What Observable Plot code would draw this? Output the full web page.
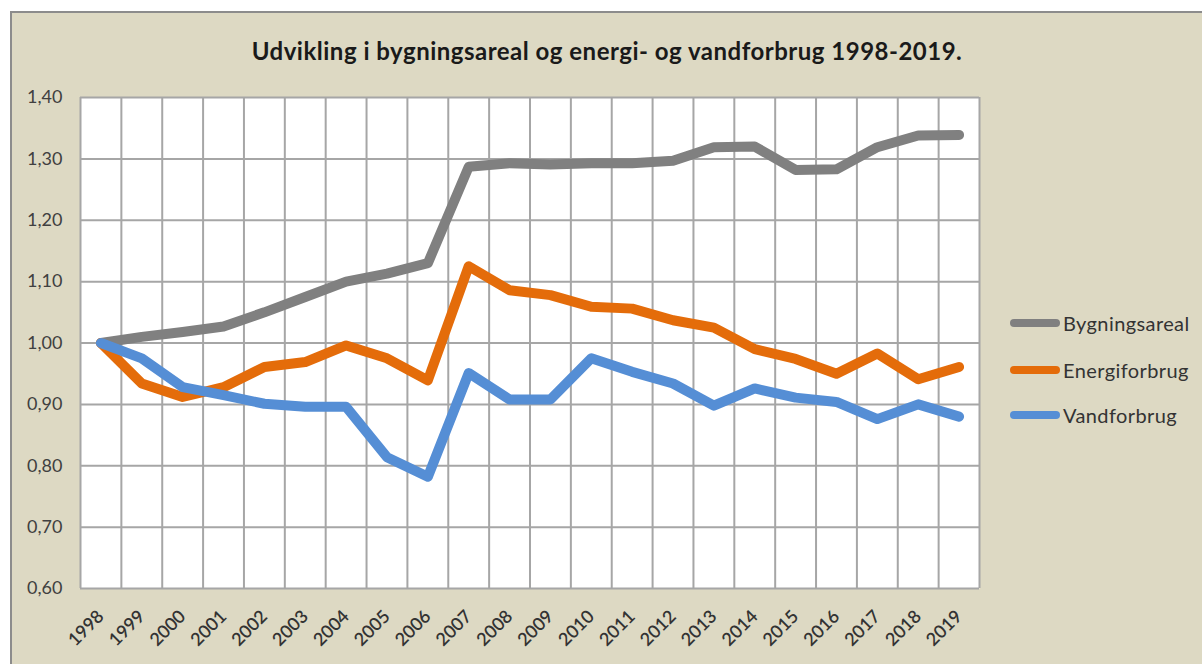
<!DOCTYPE html>
<html>
<head>
<meta charset="utf-8">
<script src="https://cdn.jsdelivr.net/npm/d3@7"></script>
<script src="https://cdn.jsdelivr.net/npm/@observablehq/plot@0.6"></script>
<style>
  html, body { margin: 0; padding: 0; background: #ffffff; }
  #wrap { position: relative; width: 1202px; height: 664px; overflow: hidden; background: #ffffff; font-family: Lato, "Open Sans", sans-serif; }
  #panel { position: absolute; left: 10px; top: 11px; width: 1200px; height: 660px; background: #ddd9c3; border-left: 2px solid #8c8c8c; border-top: 2px solid #8c8c8c; box-sizing: border-box; }
  #chart { position: absolute; left: 0; top: 0; }
  #title { position: absolute; left: 0; width: 1214px; top: 36px; text-align: center; font-weight: 700; font-size: 24px; letter-spacing: 0.5px; color: #1a1a1a; }
  #legend { position: absolute; left: 1010px; top: 310px; }
  .item { position: absolute; left: 0; height: 26px; white-space: nowrap; font-size: 20px; color: #333333; letter-spacing: 0.4px; }
  .swatch { position: absolute; left: 0; top: 9px; width: 50px; height: 8px; border-radius: 4px; }
  .lab { position: absolute; left: 53px; top: 0; line-height: 26px; }
</style>
</head>
<body>
<div id="wrap">
  <div id="panel"></div>
  <div id="chart"></div>
  <div id="title">Udvikling i bygningsareal og energi- og vandforbrug 1998-2019.</div>
  <div id="legend"></div>
</div>
<script>
const years = [1998, 1999, 2000, 2001, 2002, 2003, 2004, 2005, 2006, 2007, 2008, 2009, 2010, 2011, 2012, 2013, 2014, 2015, 2016, 2017, 2018, 2019];
const bygningsareal = [1.00, 1.010, 1.018, 1.027, 1.050, 1.075, 1.100, 1.113, 1.130, 1.287, 1.293, 1.291, 1.293, 1.293, 1.297, 1.319, 1.320, 1.282, 1.283, 1.319, 1.338, 1.339];
const energiforbrug = [1.00, 0.934, 0.912, 0.928, 0.961, 0.969, 0.996, 0.975, 0.939, 1.125, 1.086, 1.078, 1.059, 1.056, 1.037, 1.025, 0.990, 0.974, 0.950, 0.983, 0.941, 0.961];
const vandforbrug = [1.00, 0.975, 0.928, 0.915, 0.901, 0.896, 0.896, 0.814, 0.782, 0.951, 0.908, 0.908, 0.975, 0.953, 0.934, 0.898, 0.926, 0.911, 0.904, 0.876, 0.900, 0.880];
const seriesNames = ["Bygningsareal", "Energiforbrug", "Vandforbrug"];
const seriesColors = ["#808080", "#e46c0a", "#558ed5"];
const yTicks = [0.60, 0.70, 0.80, 0.90, 1.00, 1.10, 1.20, 1.30, 1.40];

const seriesValues = [bygningsareal, energiforbrug, vandforbrug];
const data = [];
seriesNames.forEach((name, i) => {
  years.forEach((yr, j) => data.push({series: name, year: yr, value: seriesValues[i][j]}));
});
const boundaries = years.map(y => y - 0.5).concat([years[years.length - 1] + 0.5]);

const chart = Plot.plot({
  width: 1202,
  height: 664,
  marginLeft: 80,
  marginRight: 223,
  marginTop: 97,
  marginBottom: 76,
  style: {background: "transparent", fontFamily: "Lato, 'Open Sans', sans-serif", color: "#404040", overflow: "visible"},
  x: {domain: [years[0] - 0.5, years[years.length - 1] + 0.5]},
  y: {domain: [yTicks[0], yTicks[yTicks.length - 1]]},
  color: {domain: seriesNames, range: seriesColors},
  marks: [
    Plot.frame({fill: "white", stroke: null}),
    Plot.ruleX(boundaries, {stroke: "#a6a6a6", strokeWidth: 2}),
    Plot.ruleY(yTicks, {stroke: "#a6a6a6", strokeWidth: 2}),
    Plot.axisY({ticks: yTicks, tickFormat: d => d.toFixed(2).replace(".", ","), tickSize: 0, tickPadding: 18, label: null, fontSize: 18}),
    Plot.axisX({ticks: years, tickFormat: d => String(d), tickRotate: -45, tickSize: 0, tickPadding: 25, label: null, fontSize: 18, fontWeight: 600, fill: "#333333"}),
    Plot.line(data, {x: "year", y: "value", z: "series", stroke: "series", strokeWidth: 10, strokeLinejoin: "round", strokeLinecap: "round"})
  ]
});
document.getElementById("chart").appendChild(chart);

const legend = document.getElementById("legend");
const rowTops = [0, 47, 92];
seriesNames.forEach((name, i) => {
  const item = document.createElement("div");
  item.className = "item";
  item.style.top = rowTops[i] + "px";
  const sw = document.createElement("div");
  sw.className = "swatch";
  sw.style.background = seriesColors[i];
  const lab = document.createElement("div");
  lab.className = "lab";
  lab.textContent = name;
  item.appendChild(sw);
  item.appendChild(lab);
  legend.appendChild(item);
});
</script>
</body>
</html>
